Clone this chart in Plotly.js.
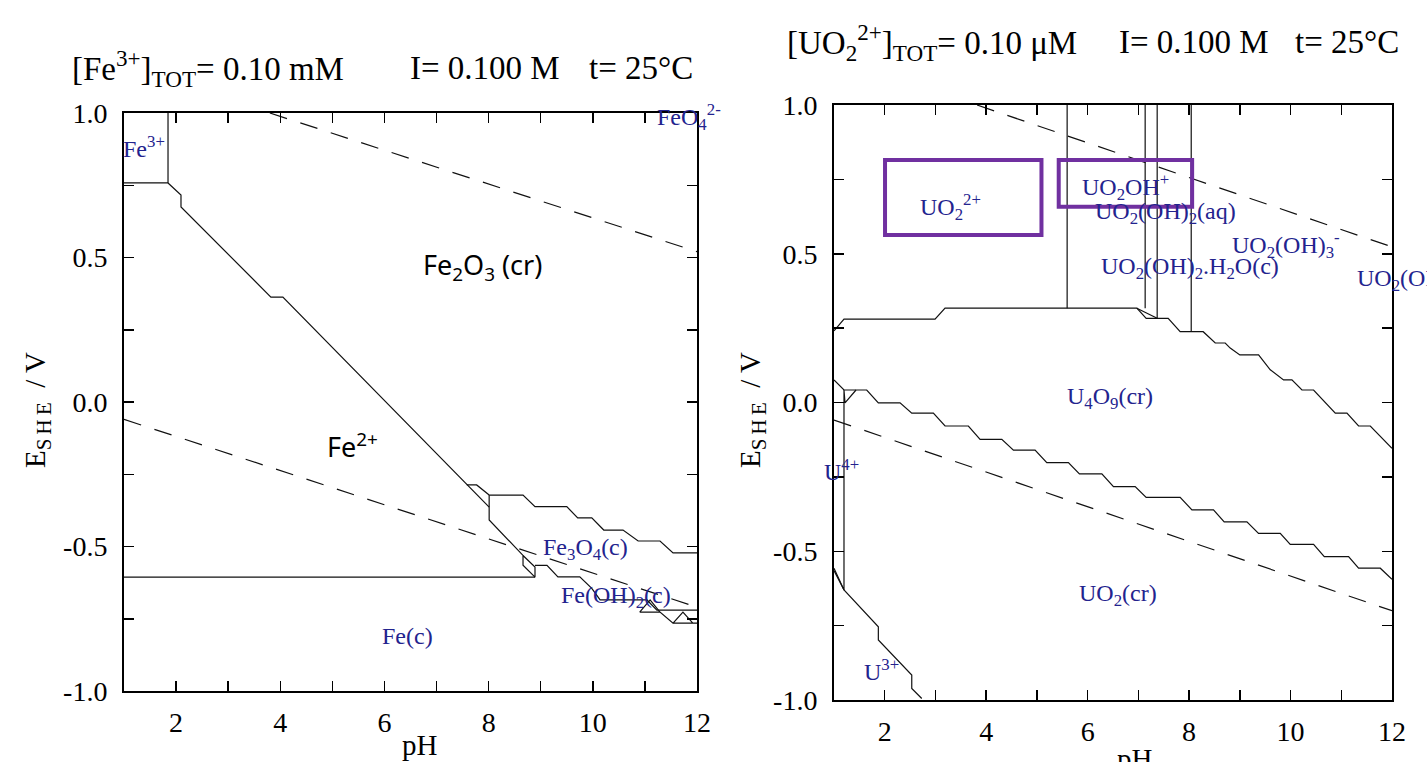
<!DOCTYPE html>
<html><head><meta charset="utf-8">
<script src="https://cdn.plot.ly/plotly-3.0.1.min.js"></script>
<style>html,body{margin:0;padding:0;background:#fff;overflow:hidden}#chart{width:1427px;height:762px}</style>
</head><body><div id="chart"></div>
<script>
// ---------------- data ----------------
const xTickVals = [1,2,3,4,5,6,7,8,9,10,11,12];
const xTickText = ['', '2', '', '4', '', '6', '', '8', '', '10', '', '12'];
const yTickVals = [-1,-0.75,-0.5,-0.25,0,0.25,0.5,0.75,1];
const yTickText = ['-1.0','','-0.5','','0.0','','0.5','','1.0'];

// Fe diagram (pH, E/V)
const feBoxX = [1.0, 1.845, 1.845];
const feBoxY = [0.758, 0.758, 1.0];
const feDiagX = [1.845, 2.094, 2.094, 3.82, 4.05, 7.77, 8.01];
const feDiagY = [0.758, 0.716, 0.675, 0.363, 0.363, -0.322, -0.364];
const feTri1X = [7.58, 7.77, 8.01];
const feTri1Y = [-0.287, -0.287, -0.322];
const feUpperX = [8.01, 8.66, 8.89, 9.50, 9.71, 9.98, 10.21, 10.58, 10.87, 11.29, 11.54, 12.0];
const feUpperY = [-0.322, -0.322, -0.362, -0.362, -0.401, -0.401, -0.443, -0.443, -0.481, -0.481, -0.522, -0.522];
const feVertX = [8.01, 8.01, 8.66, 8.66, 8.89, 8.89, 8.66];
const feVertY = [-0.322, -0.408, -0.531, -0.565, -0.606, -0.571, -0.531];
const feMetalX = [1.0, 8.89];
const feMetalY = [-0.606, -0.606];
const feHydUpX = [8.89, 9.12, 9.33, 9.75, 9.98, 10.14, 11.04, 11.23, 12.0];
const feHydUpY = [-0.565, -0.565, -0.605, -0.605, -0.645, -0.685, -0.685, -0.72, -0.72];
const feHydLoX = [10.90, 11.10, 11.29, 10.90, 11.29, 11.54, 11.73, 11.92, 11.54, 12.0];
const feHydLoY = [-0.727, -0.685, -0.727, -0.727, -0.727, -0.765, -0.727, -0.765, -0.765, -0.765];
const feO2X = [3.8, 12.0];
const feO2Y = [1.0, 0.52];
const feH2X = [1.0, 12.0];
const feH2Y = [-0.06, -0.71];

// U diagram (pH, E/V)
const uTopX = [1.0, 1.197, 2.992, 3.189, 6.970, 7.154, 7.588, 7.824, 8.278, 8.515, 8.712, 8.811, 9.0, 9.37, 9.60, 9.862, 10.027, 10.225, 10.454, 10.882, 11.112, 11.341, 11.572, 12.0];
const uTopY = [0.241, 0.280, 0.280, 0.317, 0.317, 0.283, 0.283, 0.238, 0.238, 0.200, 0.200, 0.183, 0.160, 0.160, 0.110, 0.076, 0.076, 0.042, 0.042, -0.036, -0.036, -0.079, -0.079, -0.154];
const uTriX = [6.970, 7.371];
const uTriY = [0.317, 0.283];
const uV1X = [5.596, 5.596];
const uV1Y = [1.0, 0.317];
const uV2X = [7.134, 7.134];
const uV2Y = [1.0, 0.317];
const uV3X = [7.371, 7.371];
const uV3Y = [1.0, 0.283];
const uV4X = [8.042, 8.042];
const uV4Y = [1.0, 0.238];
const uLowX = [1.0, 1.197, 1.645, 1.874, 2.302, 2.533, 2.959, 3.189, 3.649, 3.880, 4.308, 4.537, 4.964, 5.195, 5.621, 5.838, 6.280, 6.509, 6.937, 7.154, 7.824, 8.056, 8.481, 8.692, 9.140, 9.369, 9.797, 9.994, 10.454, 10.665, 11.144, 11.341, 11.769, 12.0];
const uLowY = [0.076, 0.042, 0.042, -0.001, -0.001, -0.036, -0.036, -0.079, -0.079, -0.124, -0.124, -0.160, -0.160, -0.202, -0.202, -0.240, -0.240, -0.283, -0.283, -0.319, -0.319, -0.361, -0.361, -0.401, -0.401, -0.440, -0.440, -0.477, -0.477, -0.518, -0.518, -0.557, -0.557, -0.594];
const uU4X = [1.434, 1.217, 1.197, 1.197, 1.0];
const uU4Y = [0.042, -0.001, 0.042, -0.630, -0.557];
const uU3X = [1.0, 1.197, 1.874, 1.874, 2.533, 2.533, 2.730];
const uU3Y = [-0.565, -0.630, -0.754, -0.798, -0.916, -0.961, -0.995];
const uO2X = [3.82, 12.0];
const uO2Y = [1.0, 0.523];
const uH2X = [1.0, 12.0];
const uH2Y = [-0.059, -0.70];

// ---------------- chart ----------------
const W = 1427, H = 762;
const px = v => v / W, py = v => 1 - v / H;
const solid = {color: '#111', width: 1.2};
const dashed = {color: '#111', width: 1.2, dash: '18px,14px'};
function tr(x, y, ax, line) {
  return {x: x, y: y, xaxis: ax[0], yaxis: ax[1], type: 'scatter', mode: 'lines',
          line: line, hoverinfo: 'skip', showlegend: false};
}
const A = ['x', 'y'], B = ['x2', 'y2'];
const traces = [
  tr(feBoxX, feBoxY, A, solid), tr(feDiagX, feDiagY, A, solid), tr(feTri1X, feTri1Y, A, solid),
  tr(feUpperX, feUpperY, A, solid), tr(feVertX, feVertY, A, solid), tr(feMetalX, feMetalY, A, solid),
  tr(feHydUpX, feHydUpY, A, solid), tr(feHydLoX, feHydLoY, A, solid),
  tr(feO2X, feO2Y, A, dashed), tr(feH2X, feH2Y, A, dashed),
  tr(uTopX, uTopY, B, solid), tr(uTriX, uTriY, B, solid),
  tr(uV1X, uV1Y, B, solid), tr(uV2X, uV2Y, B, solid), tr(uV3X, uV3Y, B, solid), tr(uV4X, uV4Y, B, solid),
  tr(uLowX, uLowY, B, solid), tr(uU4X, uU4Y, B, solid), tr(uU3X, uU3Y, B, solid),
  tr(uO2X, uO2Y, B, dashed), tr(uH2X, uH2Y, B, dashed)
];

const serif = 'Liberation Serif, Times New Roman, serif';
const tickFont = {family: serif, size: 28, color: '#000'};
function xa(dom, anchor) {
  return {domain: dom, anchor: anchor, range: [1, 12], tickmode: 'array', tickvals: xTickVals, ticktext: xTickText,
          ticks: 'inside', ticklen: 10, tickwidth: 1.5, tickcolor: '#000', showline: true, linewidth: 2,
          linecolor: '#000', mirror: 'ticks', showgrid: false, zeroline: false, tickfont: tickFont,
          ticklabelstandoff: 5, fixedrange: true};
}
function ya(dom, anchor) {
  return {domain: dom, anchor: anchor, range: [-1, 1], tickmode: 'array', tickvals: yTickVals, ticktext: yTickText,
          ticks: 'inside', ticklen: 10, tickwidth: 1.5, tickcolor: '#000', showline: true, linewidth: 2,
          linecolor: '#000', mirror: 'ticks', showgrid: false, zeroline: false, tickfont: tickFont,
          ticklabelstandoff: 9, fixedrange: true};
}
const navy = '#23238e';
const lab = (t, x, y, ax, opt) => Object.assign({text: t, x: x, y: y, xref: ax[0], yref: ax[1], showarrow: false,
  font: {family: serif, size: 24, color: navy}}, opt || {});
const paper = (t, x, y, opt) => Object.assign({text: t, x: px(x), y: py(y), xref: 'paper', yref: 'paper',
  xanchor: 'center', yanchor: 'middle', showarrow: false, font: {family: serif, size: 33, color: '#000'}}, opt || {});
const sans = {family: 'Noto Sans, Liberation Sans, sans-serif', size: 27, color: '#000'};
const ylab = 'E<sub><span style="font-size:21px">S' + '\u2009' + 'H' + '\u2009' + 'E</span></sub>\u00A0\u00A0/ V';
const yfont = {family: serif, size: 29, color: '#000'};
const annotations = [
  paper('[Fe<sup>3+</sup>]<sub>TOT</sub>= 0.10 mM', 70, 68, {xanchor: 'left'}),
  paper('I= 0.100 M', 408, 68, {xanchor: 'left'}),
  paper('t= 25°C', 587, 68, {xanchor: 'left'}),
  paper('[UO<sub>2</sub><sup>2+</sup>]<sub>TOT</sub>= 0.10 μM', 785, 42, {xanchor: 'left'}),
  paper('I= 0.100 M', 1117, 42, {xanchor: 'left'}),
  paper('t= 25°C', 1293, 42, {xanchor: 'left'}),
  paper(ylab, 37, 410, {textangle: -90, font: yfont}),
  paper(ylab, 752, 410, {textangle: -90, font: yfont}),
  paper('pH', 420, 745, {font: {family: serif, size: 29, color: '#000'}}),
  {text: 'pH', x: px(1135), y: py(741), xref: 'paper', yref: 'paper', xanchor: 'center', yanchor: 'top',
   showarrow: false, font: {family: serif, size: 29, color: '#000'}},
  paper('Fe<sup>3+</sup>', 121, 147, {xanchor: 'left', font: {family: serif, size: 24, color: navy}}),
  lab('FeO<sub>4</sub><sup>2-</sup>', 11.19, 0.985, A, {xanchor: 'left'}),
  lab('Fe<sub>2</sub>O<sub>3</sub> (cr)', 7.89, 0.47, A, {font: sans}),
  lab('Fe<sup>2+</sup>', 5.38, -0.15, A, {font: sans}),
  lab('Fe<sub>3</sub>O<sub>4</sub>(c)', 9.85, -0.51, A),
  lab('Fe(OH)<sub>2</sub>(c)', 10.44, -0.675, A),
  lab('Fe(c)', 6.45, -0.81, A),
  lab('UO<sub>2</sub><sup>2+</sup>', 3.29, 0.657, B),
  lab('UO<sub>2</sub>OH<sup>+</sup>', 6.74, 0.724, B),
  lab('UO<sub>2</sub>(OH)<sub>2</sub>(aq)', 7.53, 0.637, B),
  lab('UO<sub>2</sub>(OH)<sub>2</sub>.H<sub>2</sub>O(c)', 8.02, 0.452, B),
  lab('UO<sub>2</sub>(OH)<sub>3</sub><sup>-</sup>', 9.92, 0.529, B),
  lab('UO<sub>2</sub>(OH)<sub>4</sub><sup>2-</sup>', 11.28, 0.418, B, {xanchor: 'left'}),
  lab('U<sub>4</sub>O<sub>9</sub>(cr)', 6.44, 0.015, B),
  lab('UO<sub>2</sub>(cr)', 6.60, -0.647, B),
  paper('U<sup>4+</sup>', 822, 470, {xanchor: 'left', font: {family: serif, size: 24, color: navy}}),
  lab('U<sup>3+</sup>', 1.93, -0.90, B)
];
const purple = '#7030A0';
const shapes = [
  {type: 'rect', xref: 'x2', yref: 'y2', x0: 2.006, x1: 5.09, y0: 0.563, y1: 0.815, line: {color: purple, width: 4}},
  {type: 'rect', xref: 'x2', yref: 'y2', x0: 5.43, x1: 8.06, y0: 0.658, y1: 0.815, line: {color: purple, width: 4}}
];
const layout = {
  width: W, height: H, margin: {l: 0, r: 0, t: 0, b: 0}, paper_bgcolor: '#fff', plot_bgcolor: '#fff',
  showlegend: false,
  xaxis: xa([px(124), px(697)], 'y'), yaxis: ya([py(691), py(113)], 'x'),
  xaxis2: xa([px(834), px(1392)], 'y2'), yaxis2: ya([py(700), py(105)], 'x2'),
  annotations: annotations, shapes: shapes
};
Plotly.newPlot('chart', traces, layout, {displayModeBar: false, staticPlot: true});
</script></body></html>
